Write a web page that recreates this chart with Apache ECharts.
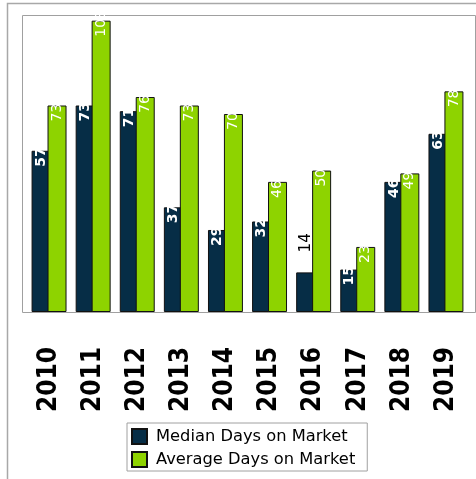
<!DOCTYPE html>
<html>
<head>
<meta charset="utf-8">
<script src="https://cdn.jsdelivr.net/npm/echarts@6/dist/echarts.min.js"></script>
<style>
  html, body { margin: 0; padding: 0; background: #fff; }
  #chart { width: 476px; height: 479px; }
</style>
</head>
<body>
<div id="chart"></div>
<script>
var years = ['2010', '2011', '2012', '2013', '2014', '2015', '2016', '2017', '2018', '2019'];
var medianDays = [57, 73, 71, 37, 29, 32, 14, 15, 46, 63];
var averageDays = [73, 103, 76, 73, 70, 46, 50, 23, 49, 78];

var myChart = echarts.init(document.getElementById('chart'));

// labels sit inside the bar top, rotated; short bars get the label above in black
function insideLabel(bold) {
  return {
    show: true,
    position: ['50%', 16],
    rotate: 90,
    align: 'left',
    verticalAlign: 'middle',
    color: '#fff',
    fontFamily: 'DejaVu Sans',
    fontSize: 14,
    fontWeight: bold ? 'bold' : 'normal'
  };
}

var medianData = medianDays.map(function (v) {
  if (v < 15) {
    return { value: v, label: { position: ['50%', -20], color: '#000', fontSize: 15, fontWeight: 'normal' } };
  }
  return v;
});

var option = {
  animation: false,
  grid: { left: 27, right: 8, top: 15, bottom: 167 },
  graphic: [
    { type: 'rect', shape: { x: 22.5, y: 15.5, width: 453, height: 297 },
      style: { fill: null, stroke: '#a0a0a0', lineWidth: 1 }, silent: true },
    { type: 'polyline', shape: { points: [[7.5, 479], [7.5, 3.5], [476, 3.5]] },
      style: { fill: null, stroke: '#a8a8a8', lineWidth: 1.5 }, silent: true }
  ],
  legend: {
    orient: 'vertical',
    left: 127,
    top: 423,
    padding: [5, 12, 3, 4],
    itemWidth: 15,
    itemHeight: 15,
    itemGap: 6,
    borderColor: '#a0a0a0',
    borderWidth: 1,
    borderRadius: 0,
    icon: 'rect',
    textStyle: { fontFamily: 'DejaVu Sans', fontSize: 16.3, color: '#000', padding: [0, 0, 0, 4] },
    data: ['Median Days on Market', 'Average Days on Market']
  },
  xAxis: {
    type: 'category',
    data: years,
    axisLine: { lineStyle: { color: '#a0a0a0', width: 1 } },
    axisTick: { alignWithLabel: true, length: 15, lineStyle: { color: '#a0a0a0' } },
    axisLabel: {
      rotate: 90,
      margin: 35,
      color: '#000',
      fontFamily: 'DejaVu Sans Condensed, DejaVu Sans',
      fontWeight: 'bold',
      fontSize: 26
    }
  },
  yAxis: {
    type: 'value',
    min: 0,
    max: 105,
    show: false,
    splitLine: { show: false }
  },
  series: [
    {
      name: 'Median Days on Market',
      type: 'bar',
      barWidth: 19,
      barGap: '-16%',
      data: medianData,
      itemStyle: { color: '#062d46', borderColor: '#111', borderWidth: 1 },
      label: insideLabel(true)
    },
    {
      name: 'Average Days on Market',
      type: 'bar',
      barWidth: 19,
      barGap: '-16%',
      data: averageDays,
      itemStyle: { color: '#8ed300', borderColor: '#111', borderWidth: 1 },
      label: insideLabel(false)
    }
  ]
};

myChart.setOption(option);
</script>
</body>
</html>
